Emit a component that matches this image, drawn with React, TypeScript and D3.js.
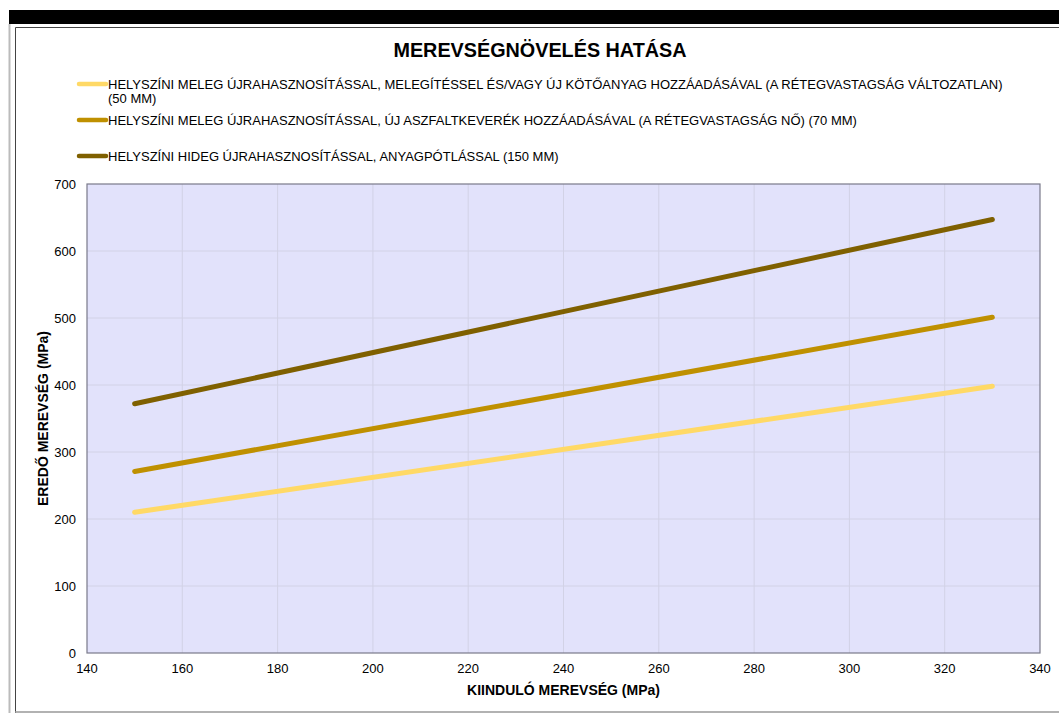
import React from "react";
import * as d3 from "d3";

const xValues = [150, 330];
const seriesNames = [
  "HELYSZÍNI MELEG ÚJRAHASZNOSÍTÁSSAL, MELEGÍTÉSSEL ÉS/VAGY ÚJ KÖTŐANYAG HOZZÁADÁSÁVAL (A RÉTEGVASTAGSÁG VÁLTOZATLAN)",
  "HELYSZÍNI MELEG ÚJRAHASZNOSÍTÁSSAL, ÚJ ASZFALTKEVERÉK HOZZÁADÁSÁVAL (A RÉTEGVASTAGSÁG NŐ) (70 MM)",
  "HELYSZÍNI HIDEG ÚJRAHASZNOSÍTÁSSAL, ANYAGPÓTLÁSSAL (150 MM)",
];
const seriesSecondLine = ["(50 MM)", "", ""];
const lightValues = [210, 398];
const midValues = [271, 501];
const darkValues = [372, 647];
const seriesColors = ["#FFD966", "#BF9000", "#7F6000"];
const xTicks = [140, 160, 180, 200, 220, 240, 260, 280, 300, 320, 340];
const yTicks = [0, 100, 200, 300, 400, 500, 600, 700];

const W = 1059;
const H = 713;
const plot = { left: 87, right: 1040, top: 184, bottom: 653 };
const font = "'Liberation Sans', Arial, sans-serif";

export default function App() {
  const x = d3.scaleLinear().domain([140, 340]).range([plot.left, plot.right]);
  const y = d3.scaleLinear().domain([0, 700]).range([plot.bottom, plot.top]);
  const allSeries = [lightValues, midValues, darkValues];
  const line = d3
    .line<number>()
    .x((_, i) => x(xValues[i]))
    .y((d) => y(d));
  const legendY = [84, 120, 156];

  return (
    <svg
      width={W}
      height={H}
      style={{ position: "absolute", left: 0, top: 0, background: "#fff" }}
      fontFamily={font}
    >
      {/* frame */}
      <rect x={9} y={10} width={W - 9} height={14} fill="#000" />
      <line x1={9.5} y1={24} x2={9.5} y2={H} stroke="#bbb" strokeWidth={2} />
      <line x1={15.5} y1={27.5} x2={W} y2={27.5} stroke="#444" strokeWidth={1} />
      <line x1={15.5} y1={27.5} x2={15.5} y2={H} stroke="#444" strokeWidth={1} />
      <line x1={15} y1={712} x2={W} y2={712} stroke="#999" strokeWidth={1.5} />

      {/* title */}
      <text x={540} y={57} textAnchor="middle" fontWeight="bold" fontSize={19.8} fill="#000">
        MEREVSÉGNÖVELÉS HATÁSA
      </text>

      {/* legend */}
      {seriesNames.map((name, i) => (
        <g key={name}>
          <line
            x1={79}
            x2={106}
            y1={legendY[i]}
            y2={legendY[i]}
            stroke={seriesColors[i]}
            strokeWidth={4.5}
            strokeLinecap="round"
          />
          <text x={108} y={legendY[i] + 4.5} fontSize={13} fill="#000">
            {name}
          </text>
          {seriesSecondLine[i] && (
            <text x={108} y={legendY[i] + 19} fontSize={13} fill="#000">
              {seriesSecondLine[i]}
            </text>
          )}
        </g>
      ))}

      {/* plot area */}
      <rect
        x={plot.left}
        y={plot.top}
        width={plot.right - plot.left}
        height={plot.bottom - plot.top}
        fill="#E2E2FB"
      />
      {xTicks.slice(1, -1).map((t) => (
        <line key={"gx" + t} x1={x(t)} x2={x(t)} y1={plot.top} y2={plot.bottom} stroke="#D2D2E6" strokeWidth={1} />
      ))}
      {yTicks.slice(1, -1).map((t) => (
        <line key={"gy" + t} x1={plot.left} x2={plot.right} y1={y(t)} y2={y(t)} stroke="#D2D2E6" strokeWidth={1} />
      ))}
      <rect
        x={plot.left}
        y={plot.top}
        width={plot.right - plot.left}
        height={plot.bottom - plot.top}
        fill="none"
        stroke="#7a7a8a"
        strokeWidth={1.2}
      />

      {/* series */}
      {allSeries.map((vals, i) => (
        <path
          key={i}
          d={line(vals) || ""}
          fill="none"
          stroke={seriesColors[i]}
          strokeWidth={5}
          strokeLinecap="round"
        />
      ))}

      {/* ticks */}
      {yTicks.map((t) => (
        <text key={"ty" + t} x={76} y={y(t) + 4.5} textAnchor="end" fontSize={13} fill="#000">
          {t}
        </text>
      ))}
      {xTicks.map((t) => (
        <text key={"tx" + t} x={x(t)} y={673} textAnchor="middle" fontSize={13} fill="#000">
          {t}
        </text>
      ))}

      {/* axis titles */}
      <text x={(plot.left + plot.right) / 2} y={695} textAnchor="middle" fontWeight="bold" fontSize={14} fill="#000">
        KIINDULÓ MEREVSÉG (MPa)
      </text>
      <text
        transform={`translate(48, ${(plot.top + plot.bottom) / 2}) rotate(-90)`}
        textAnchor="middle"
        fontWeight="bold"
        fontSize={14}
        fill="#000"
      >
        EREDŐ MEREVSÉG (MPa)
      </text>
    </svg>
  );
}
